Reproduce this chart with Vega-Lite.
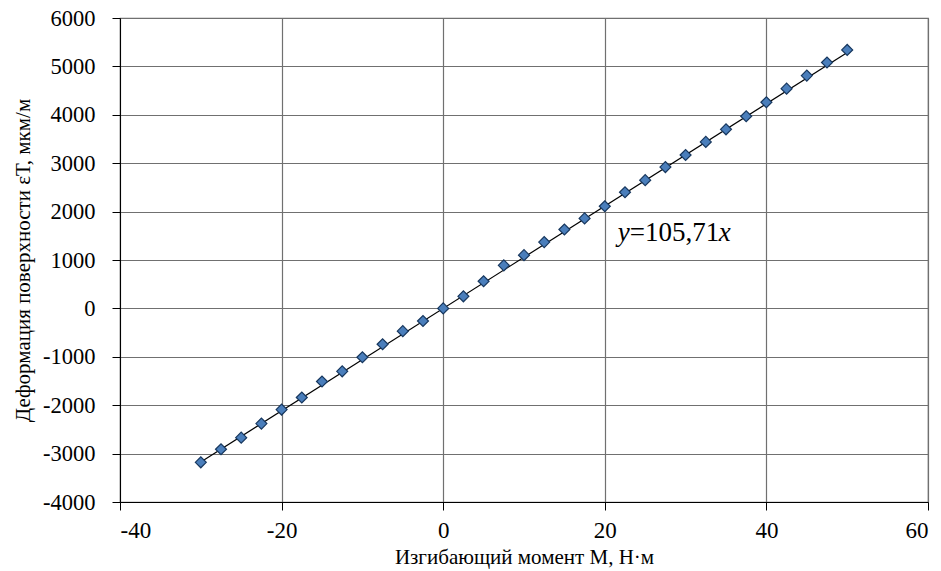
{
  "$schema": "https://vega.github.io/schema/vega-lite/v6.json",
  "width": 808,
  "height": 484,
  "autosize": "none",
  "padding": {"left": 120, "top": 18, "right": 13, "bottom": 69},
  "background": "white",
  "config": {
    "view": {"stroke": "#707070", "strokeWidth": 1.2},
    "font": "Liberation Serif",
    "axis": {
      "labelFont": "Liberation Serif",
      "titleFont": "Liberation Serif",
      "titleFontSize": 21,
      "titleFontWeight": "normal",
      "labelColor": "black",
      "titleColor": "black",
      "domainColor": "black",
      "tickColor": "black",
      "gridColor": "#707070",
      "gridWidth": 1.2,
      "gridOpacity": 1,
      "tickSize": 8,
      "labelExpr": "'' + datum.value"
    }
  },
  "datasets": {
    "pts": [
      {"M": -30, "eps": -3180},
      {"M": -27.5, "eps": -2910},
      {"M": -25, "eps": -2670},
      {"M": -22.5, "eps": -2380},
      {"M": -20, "eps": -2090},
      {"M": -17.5, "eps": -1840},
      {"M": -15, "eps": -1510},
      {"M": -12.5, "eps": -1300},
      {"M": -10, "eps": -1010},
      {"M": -7.5, "eps": -740},
      {"M": -5, "eps": -470},
      {"M": -2.5, "eps": -260},
      {"M": 0, "eps": 0},
      {"M": 2.5, "eps": 250},
      {"M": 5, "eps": 560},
      {"M": 7.5, "eps": 890},
      {"M": 10, "eps": 1100},
      {"M": 12.5, "eps": 1370},
      {"M": 15, "eps": 1630},
      {"M": 17.5, "eps": 1860},
      {"M": 20, "eps": 2110},
      {"M": 22.5, "eps": 2400},
      {"M": 25, "eps": 2650},
      {"M": 27.5, "eps": 2920},
      {"M": 30, "eps": 3170},
      {"M": 32.5, "eps": 3440},
      {"M": 35, "eps": 3700},
      {"M": 37.5, "eps": 3970},
      {"M": 40, "eps": 4260},
      {"M": 42.5, "eps": 4540},
      {"M": 45, "eps": 4810},
      {"M": 47.5, "eps": 5080},
      {"M": 50, "eps": 5340}
    ],
    "trend": [
      {"M": -30, "eps": -3171.3},
      {"M": 50.5, "eps": 5338.4}
    ],
    "ann": [
      {"M": 21.6, "eps": 1560}
    ]
  },
  "layer": [
    {
      "data": {"name": "trend"},
      "mark": {"type": "line", "color": "black", "strokeWidth": 1.2},
      "encoding": {
        "x": {
          "field": "M", "type": "quantitative",
          "scale": {"domain": [-40, 60], "nice": false},
          "axis": {
            "values": [-40, -20, 0, 20, 40, 60],
            "grid": true,
            "labelFontSize": 23,
            "labelPadding": 9,
            "title": "Изгибающий момент M, Н·м",
            "titlePadding": 4
          }
        },
        "y": {
          "field": "eps", "type": "quantitative",
          "scale": {"domain": [-4000, 6000], "nice": false},
          "axis": {
            "values": [-4000, -3000, -2000, -1000, 0, 1000, 2000, 3000, 4000, 5000, 6000],
            "grid": true,
            "labelFontSize": 22.5,
            "labelPadding": 17,
            "title": "Деформация поверхности εТ, мкм/м",
            "titlePadding": 9
          }
        }
      }
    },
    {
      "data": {"name": "pts"},
      "mark": {"type": "point", "shape": "diamond", "size": 120, "filled": true, "fill": "#4a7ebb", "stroke": "#17375e", "strokeWidth": 1.2, "opacity": 1},
      "encoding": {
        "x": {"field": "M", "type": "quantitative"},
        "y": {"field": "eps", "type": "quantitative"}
      }
    },
    {
      "data": {"name": "ann"},
      "mark": {"type": "text", "text": "y", "fontStyle": "italic", "align": "left", "baseline": "middle", "fontSize": 27, "font": "Liberation Serif", "color": "black"},
      "encoding": {
        "x": {"field": "M", "type": "quantitative"},
        "y": {"field": "eps", "type": "quantitative"}
      }
    },
    {
      "data": {"name": "ann"},
      "mark": {"type": "text", "text": "=105,71", "align": "left", "baseline": "middle", "dx": 12, "fontSize": 27, "font": "Liberation Serif", "color": "black"},
      "encoding": {
        "x": {"field": "M", "type": "quantitative"},
        "y": {"field": "eps", "type": "quantitative"}
      }
    },
    {
      "data": {"name": "ann"},
      "mark": {"type": "text", "text": "x", "fontStyle": "italic", "align": "left", "baseline": "middle", "dx": 101, "fontSize": 27, "font": "Liberation Serif", "color": "black"},
      "encoding": {
        "x": {"field": "M", "type": "quantitative"},
        "y": {"field": "eps", "type": "quantitative"}
      }
    }
  ]
}
